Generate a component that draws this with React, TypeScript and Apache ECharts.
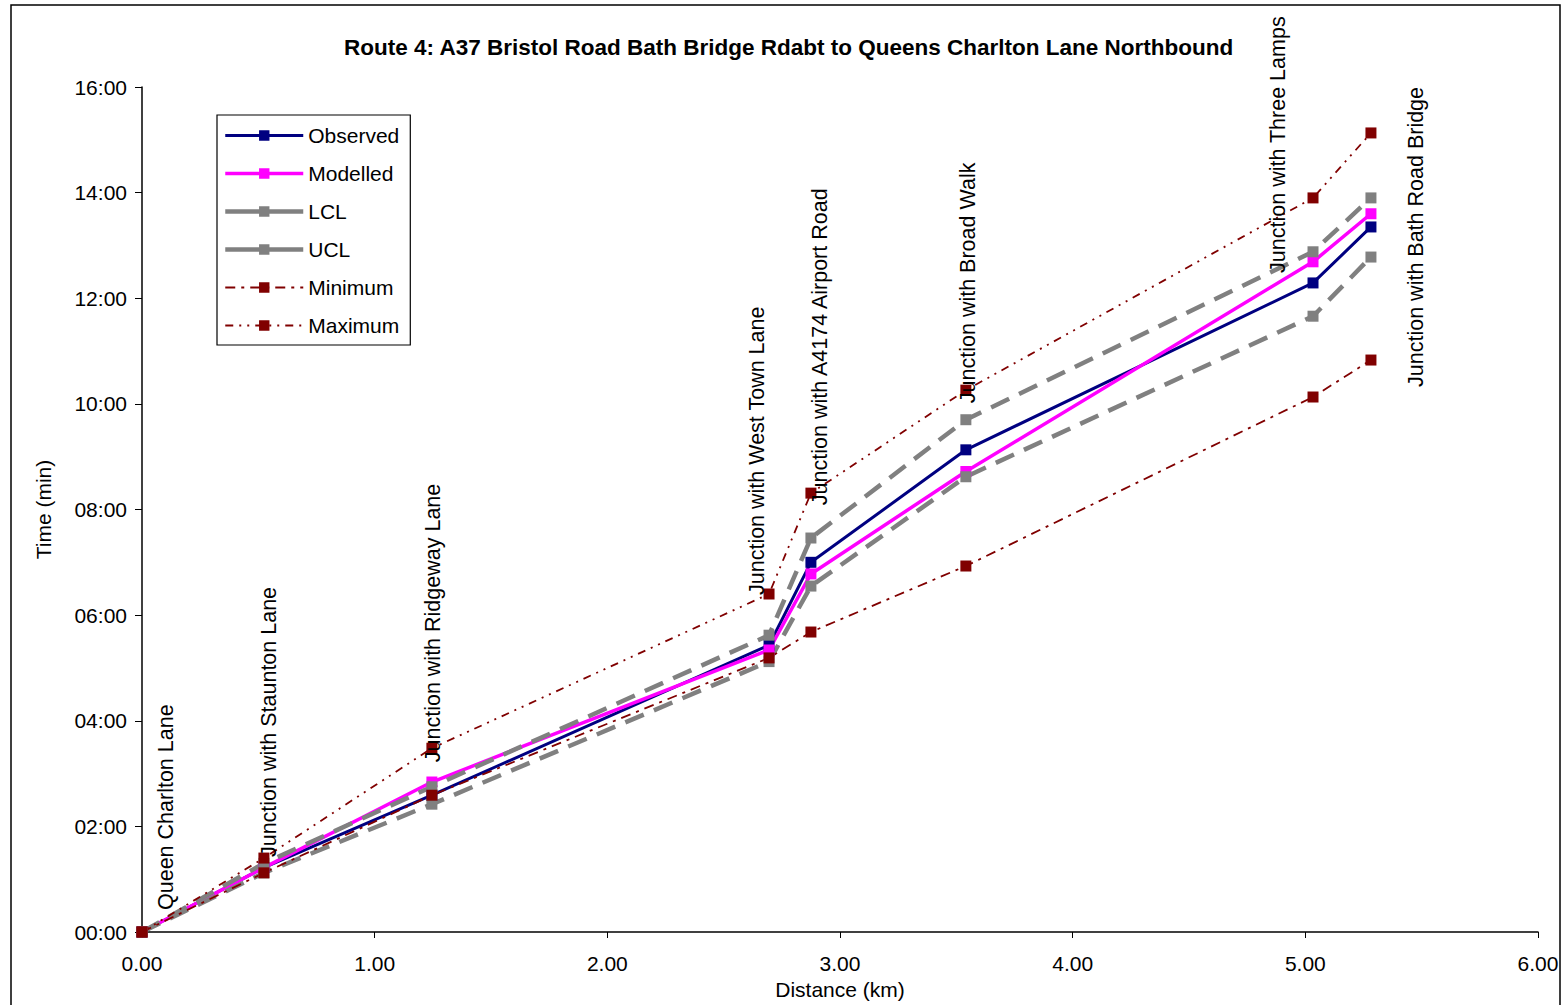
import React, { useEffect, useRef } from "react";
import * as echarts from "echarts";

const distanceKm = [0, 0.524, 1.246, 2.695, 2.875, 3.541, 5.033, 5.282];
const junctions = [
  "Queen Charlton Lane",
  "Junction with Staunton Lane",
  "Junction with Ridgeway Lane",
  "Junction with West Town Lane",
  "Junction with A4174 Airport Road",
  "Junction with Broad Walk",
  "Junction with Three Lamps",
  "Junction with Bath Road Bridge",
];
// times in minutes
const observed = [0, 1.22, 2.59, 5.43, 7.0, 9.13, 12.29, 13.35];
const modelled = [0, 1.22, 2.84, 5.34, 6.78, 8.72, 12.69, 13.6];
const lcl = [0, 1.12, 2.42, 5.12, 6.55, 8.62, 11.66, 12.78];
const ucl = [0, 1.3, 2.75, 5.62, 7.46, 9.7, 12.88, 13.9];
const minimum = [0, 1.12, 2.59, 5.19, 5.68, 6.93, 10.13, 10.83];
const maximum = [0, 1.4, 3.48, 6.4, 8.31, 10.26, 13.9, 15.13];

// screen offsets (px) of the junction labels' bottom end from the Maximum point
const labelOffsets: [number, number][] = [
  [24, -22],
  [5, -1],
  [1, 14],
  [-12, 1],
  [9, 12],
  [2, 13],
  [-35, 75],
  [45, 254],
];

const FONT = "'Liberation Sans', Arial, sans-serif";

function fmtTime(v: number) {
  const m = Math.floor(v);
  const s = Math.round((v - m) * 60);
  return String(m).padStart(2, "0") + ":" + String(s).padStart(2, "0");
}

function pairs(ys: number[]) {
  return distanceKm.map((d, i) => [d, ys[i]]);
}

export default function App() {
  const ref = useRef<HTMLDivElement>(null);
  useEffect(() => {
    const chart = echarts.init(ref.current!, undefined, { renderer: "svg" });
    const sq = { symbol: "rect", symbolSize: 11 };
    const maxData = distanceKm.map((d, i) => {
      const [sx, sy] = labelOffsets[i];
      return {
        value: [d, maximum[i]],
        label: {
          show: true,
          formatter: junctions[i],
          position: "inside",
          rotate: 90,
          align: "left",
          verticalAlign: "middle",
          offset: [-sy, sx],
          color: "#000",
          fontSize: 21.5,
          fontFamily: FONT,
        },
      };
    });
    chart.setOption({
      animation: false,
      backgroundColor: "#fff",
      title: {
        text: "Route 4: A37 Bristol Road Bath Bridge Rdabt to Queens Charlton Lane Northbound",
        left: 339,
        top: 31,
        textStyle: { fontFamily: FONT, fontSize: 22.5, fontWeight: "bold", color: "#000" },
      },
      graphic: [
        {
          type: "rect",
          shape: { x: 11, y: 5, width: 1549, height: 1010 },
          style: { fill: "none", stroke: "#000", lineWidth: 1.5 },
          silent: true,
        },
      ],
      legend: {
        orient: "vertical",
        left: 217,
        top: 115,
        padding: [10, 11, 9, 6],
        itemGap: 17,
        itemWidth: 78,
        itemHeight: 13,
        borderColor: "#000",
        borderWidth: 1.2,
        lineStyle: { width: "inherit" },
        textStyle: { fontFamily: FONT, fontSize: 21, color: "#000" },
        data: [
          { name: "Observed" },
          { name: "Modelled" },
          { name: "LCL", lineStyle: { type: "solid", width: 4.5 } },
          { name: "UCL", lineStyle: { type: "solid", width: 4.5 } },
          { name: "Minimum" },
          { name: "Maximum" },
        ],
      },
      grid: { left: 142, right: 26, top: 87, bottom: 73, containLabel: false },
      xAxis: {
        type: "value",
        min: 0,
        max: 6,
        interval: 1,
        name: "Distance (km)",
        nameLocation: "middle",
        nameGap: 40,
        nameTextStyle: { fontFamily: FONT, fontSize: 21, color: "#000" },
        axisLine: { lineStyle: { color: "#000", width: 1.5 } },
        axisTick: { show: true, length: 6, lineStyle: { color: "#000" } },
        axisLabel: {
          fontFamily: FONT,
          fontSize: 21,
          color: "#000",
          margin: 21,
          formatter: (v: number) => v.toFixed(2),
        },
        splitLine: { show: false },
      },
      yAxis: {
        type: "value",
        min: 0,
        max: 16,
        interval: 2,
        name: "Time (min)",
        nameLocation: "middle",
        nameGap: 88,
        nameTextStyle: { fontFamily: FONT, fontSize: 21, color: "#000" },
        axisLine: { show: true, lineStyle: { color: "#000", width: 1.5 } },
        axisTick: { show: true, length: 7, lineStyle: { color: "#000" } },
        axisLabel: {
          fontFamily: FONT,
          fontSize: 21,
          color: "#000",
          margin: 15,
          formatter: (v: number) => fmtTime(v),
        },
        splitLine: { show: false },
      },
      series: [
        {
          name: "Observed",
          type: "line",
          ...sq,
          data: pairs(observed),
          lineStyle: { color: "#000080", width: 3 },
          itemStyle: { color: "#000080" },
        },
        {
          name: "Modelled",
          type: "line",
          ...sq,
          data: pairs(modelled),
          lineStyle: { color: "#FF00FF", width: 3.5 },
          itemStyle: { color: "#FF00FF" },
        },
        {
          name: "LCL",
          type: "line",
          ...sq,
          data: pairs(lcl),
          lineStyle: { color: "#808080", width: 4.5, type: [20, 11] },
          itemStyle: { color: "#808080" },
        },
        {
          name: "UCL",
          type: "line",
          ...sq,
          data: pairs(ucl),
          lineStyle: { color: "#808080", width: 4.5, type: [20, 11] },
          itemStyle: { color: "#808080" },
        },
        {
          name: "Minimum",
          type: "line",
          ...sq,
          data: pairs(minimum),
          lineStyle: { color: "#800000", width: 1.8, type: [10, 6, 3, 6] },
          itemStyle: { color: "#800000" },
        },
        {
          name: "Maximum",
          type: "line",
          ...sq,
          data: maxData,
          lineStyle: { color: "#800000", width: 1.8, type: [8, 6, 2, 6, 2, 6] },
          itemStyle: { color: "#800000" },
        },
      ],
    });
    return () => chart.dispose();
  }, []);
  return (
    <div
      ref={ref}
      style={{ position: "absolute", left: 0, top: 0, width: 1564, height: 1005 }}
    />
  );
}
